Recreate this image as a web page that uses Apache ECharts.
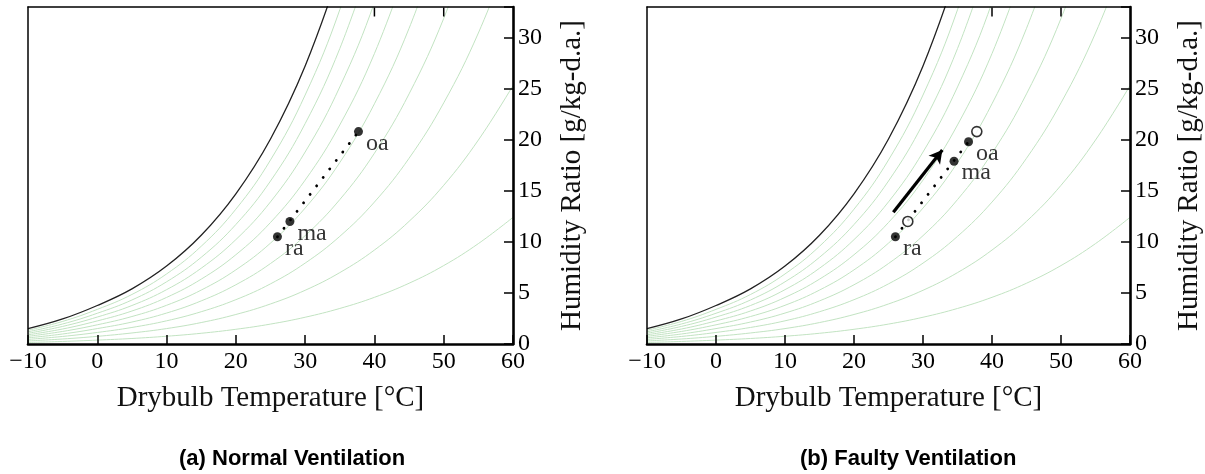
<!DOCTYPE html>
<html>
<head>
<meta charset="utf-8">
<script src="https://cdn.jsdelivr.net/npm/echarts@6/dist/echarts.min.js"></script>
<style>html,body{margin:0;padding:0;background:#fff}#c{width:1205px;height:474px}</style>
</head>
<body>
<div id="c"></div>
<script>
// Drybulb temperatures [°C] at which the curves are read
const temps = [-10, -5, 0, 5, 10, 15, 20, 25, 30, 35, 40, 45, 50, 55, 60];
// Humidity ratio [g/kg-d.a.] of the saturation curve and relative-humidity curves
const sat  = [1.50, 2.45, 3.77, 5.40, 7.63, 10.65, 14.71, 20.08, 27.23, 36.60];
const rh90 = [1.35, 2.21, 3.39, 4.85, 6.86, 9.57, 13.20, 18.02, 24.38, 32.73, 43.70];
const rh80 = [1.20, 1.96, 3.01, 4.31, 6.09, 8.49, 11.70, 15.96, 21.58, 28.93, 38.51];
const rh70 = [1.05, 1.72, 2.64, 3.77, 5.32, 7.42, 10.22, 13.92, 18.80, 25.17, 33.44, 44.40];
const rh60 = [0.90, 1.47, 2.26, 3.23, 4.56, 6.35, 8.74, 11.90, 16.05, 21.45, 28.44, 37.47];
const rh50 = [0.75, 1.23, 1.88, 2.69, 3.79, 5.28, 7.26, 9.88, 13.31, 17.77, 23.52, 30.91, 40.37];
const rh40 = [0.60, 0.98, 1.51, 2.15, 3.03, 4.22, 5.80, 7.88, 10.61, 14.14, 18.68, 24.49, 31.88, 41.27];
const rh30 = [0.45, 0.74, 1.13, 1.62, 2.27, 3.16, 4.34, 5.89, 7.92, 10.54, 13.90, 18.19, 23.61, 30.45, 39.04];
const rh20 = [0.30, 0.49, 0.75, 1.08, 1.51, 2.10, 2.89, 3.92, 5.26, 6.99, 9.20, 12.01, 15.54, 19.97, 25.30];
const rh10 = [0.15, 0.25, 0.38, 0.54, 0.76, 1.05, 1.44, 1.95, 2.62, 3.48, 4.57, 5.95, 7.68, 9.83, 12.40];
const rhCurves = [rh10, rh20, rh30, rh40, rh50, rh60, rh70, rh80, rh90];

// Axis ranges and ticks
const xMin = -10, xMax = 60, xStep = 10;
const yMin = 0, yMax = 33, yStep = 5;
const topTicks = [40, 50];

// Air states: [drybulb °C, humidity ratio g/kg]
const pointNames = ['ra', 'ma', 'oa'];
const normalRA = [26.0, 10.5];
const normalMA = [27.8, 12.0];
const normalOA = [37.7, 20.8];
const faultyRA = [26.0, 10.5];
const faultyMA = [34.5, 17.9];
const faultyOA = [36.6, 19.8];
const faultyMAref = [27.8, 12.0];
const faultyOAref = [37.8, 20.8];
const faultyArrow = [[25.7, 12.9], [32.8, 19.0]];

const captions = ['(a) Normal Ventilation', '(b) Faulty Ventilation'];
const xName = 'Drybulb Temperature [°C]';
const yName = 'Humidity Ratio [g/kg-d.a.]';

const SERIF = '"Liberation Serif", "DejaVu Serif", serif';
const zip = arr => arr.map((w, i) => [temps[i], w]);

function axesFor(g) {
  return {
    x: [
      { gridIndex: g, type: 'value', min: xMin, max: xMax, interval: xStep, position: 'bottom', z: 10,
        axisLine: { show: true, onZero: false, lineStyle: { color: '#000', width: 2.6 } },
        axisTick: { show: true, inside: true, length: 9, lineStyle: { color: '#000', width: 1.5 } },
        axisLabel: { margin: 6, color: '#000', fontFamily: SERIF, fontSize: 24,
          formatter: v => v < 0 ? '\u2212' + Math.abs(v) : String(v) },
        splitLine: { show: false },
        name: xName, nameLocation: 'middle', nameGap: 40,
        nameTextStyle: { fontFamily: SERIF, fontSize: 29, color: '#111' } },
      { gridIndex: g, type: 'value', min: xMin, max: xMax, interval: xStep, position: 'top', z: 10,
        axisLine: { show: true, onZero: false, lineStyle: { color: '#000', width: 1.5 } },
        axisTick: { show: false }, axisLabel: { show: false }, splitLine: { show: false } }
    ],
    y: [
      { gridIndex: g, type: 'value', min: yMin, max: yMax, interval: yStep, position: 'right', z: 10,
        axisLine: { show: true, onZero: false, lineStyle: { color: '#000', width: 2.6 } },
        axisTick: { show: true, inside: true, length: 9, lineStyle: { color: '#000', width: 1.5 } },
        axisLabel: { margin: 5, color: '#000', fontFamily: SERIF, fontSize: 24,
          formatter: v => (v % yStep === 0 ? String(v) : '') },
        splitLine: { show: false },
        name: yName, nameLocation: 'middle', nameRotate: 90, nameGap: 45,
        nameTextStyle: { fontFamily: SERIF, fontSize: 29, color: '#111' } },
      { gridIndex: g, type: 'value', min: yMin, max: yMax, interval: yStep, position: 'left', z: 10,
        axisLine: { show: true, onZero: false, lineStyle: { color: '#000', width: 1.5 } },
        axisTick: { show: false }, axisLabel: { show: false }, splitLine: { show: false } }
    ]
  };
}

function curveSeries(axisIdx) {
  const s = rhCurves.map(c => ({
    type: 'line', xAxisIndex: axisIdx, yAxisIndex: axisIdx, data: zip(c), smooth: 0.4,
    symbol: 'none', silent: true, clip: true, z: 1,
    lineStyle: { color: '#c2e3c2', width: 1 }
  }));
  s.push({
    type: 'line', xAxisIndex: axisIdx, yAxisIndex: axisIdx, data: zip(sat), smooth: 0.4,
    symbol: 'none', silent: true, clip: true, z: 2,
    lineStyle: { color: '#222', width: 1.3 }
  });
  return s;
}

// short inward ticks on the top frame (only at 40 and 50), placed through the axis scale
function topTickSeries(axisIdx) {
  return { type: 'scatter', xAxisIndex: axisIdx, yAxisIndex: axisIdx, silent: true, clip: false, z: 6,
    symbol: 'rect', symbolSize: [1.5, 9], symbolOffset: [0, 5], animation: false,
    itemStyle: { color: '#000', opacity: 1 }, data: topTicks.map(t => [t, yMax]) };
}

function dotted(axisIdx, a, b) {
  return { type: 'line', xAxisIndex: axisIdx, yAxisIndex: axisIdx, data: [a, b], symbol: 'none', silent: true, z: 3,
    lineStyle: { color: '#000', width: 2.8, type: [0.1, 10.6], cap: 'round' } };
}

const lbl = { show: true, position: 'right', align: 'left', verticalAlign: 'middle', offset: [-2, 12],
  fontFamily: SERIF, fontSize: 24, color: '#000', formatter: p => p.data.name };

function filled(axisIdx, pts) {
  return { type: 'scatter', xAxisIndex: axisIdx, yAxisIndex: axisIdx, symbol: 'circle', symbolSize: 9, z: 5, silent: true,
    itemStyle: { color: '#000' }, label: lbl,
    data: pts.map(p => ({ value: p[0], name: p[1] })) };
}

function open(axisIdx, pts) {
  return { type: 'scatter', xAxisIndex: axisIdx, yAxisIndex: axisIdx, symbol: 'circle', symbolSize: 10, z: 5, silent: true,
    itemStyle: { color: '#fff', borderColor: '#000', borderWidth: 1.6 }, data: pts };
}

const A = axesFor(0), B = axesFor(1);

const option = {
  animation: false,
  backgroundColor: '#fff',
  grid: [
    { left: 28, right: 692, top: 7, bottom: 130 },
    { left: 647, right: 75, top: 7, bottom: 130 }
  ],
  xAxis: [...A.x, ...B.x],
  yAxis: [...A.y, ...B.y],
  series: [
    ...curveSeries(0),
    topTickSeries(0),
    dotted(0, normalRA, normalOA),
    filled(0, [[normalRA, pointNames[0]], [normalMA, pointNames[1]], [normalOA, pointNames[2]]]),
    ...curveSeries(2),
    topTickSeries(2),
    dotted(2, faultyRA, faultyOA),
    open(2, [faultyMAref, faultyOAref]),
    filled(2, [[faultyRA, pointNames[0]], [faultyMA, pointNames[1]], [faultyOA, pointNames[2]]]),
    { type: 'line', xAxisIndex: 2, yAxisIndex: 2, data: [], silent: true, z: 4,
      markLine: { silent: true, symbol: ['none', 'arrow'], symbolSize: [11, 13], label: { show: false },
        lineStyle: { color: '#000', width: 3.2, type: 'solid' },
        data: [[{ coord: faultyArrow[0] }, { coord: faultyArrow[1] }]] } }
  ],
  graphic: [
    { type: 'text', left: 295 - 116, top: 448, style: { text: captions[0], font: 'bold 22px "Liberation Sans", Arial, sans-serif', fill: '#000' } },
    { type: 'text', left: 911 - 111, top: 448, style: { text: captions[1], font: 'bold 22px "Liberation Sans", Arial, sans-serif', fill: '#000' } }
  ]
};

echarts.init(document.getElementById('c'), null, { renderer: 'canvas' }).setOption(option);
</script>
</body>
</html>
